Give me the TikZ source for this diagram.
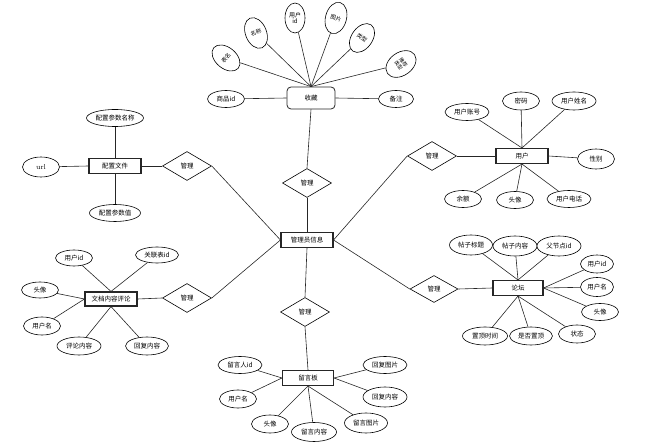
\documentclass[tikz,border=0pt]{standalone}
\usepackage{fontspec}
\newfontfamily\cjk{Noto Sans CJK SC}
\usetikzlibrary{shapes.geometric}
\begin{document}
\begin{tikzpicture}[x=1pt,y=-1pt,
  every node/.style={font=\cjk\fontsize{6.5}{7.5}\selectfont, inner sep=0pt},
  ent/.style={draw=black!85, line width=1.1pt, rectangle, minimum width=52pt, minimum height=15pt, fill=white},
  attr/.style={draw, line width=0.6pt, ellipse, minimum width=37pt, minimum height=17pt, fill=white},
  wattr/.style={attr, minimum width=44pt},
  fan/.style={draw, line width=0.6pt, ellipse, minimum width=21pt, minimum height=32pt, align=center, fill=white, font=\cjk\fontsize{5.5}{6.2}\selectfont},
  rel/.style={draw, line width=0.6pt, diamond, minimum width=49pt, minimum height=29pt, fill=white},
  conn/.style={draw=black!85, line width=0.6pt}
]
\useasboundingbox (0,0) rectangle (670,446);

% central entity
\node[ent] (adm) at (307,240) {管理员信息};

% collection (top)
\node[ent, rounded corners=4pt, minimum width=48pt, minimum height=22pt, line width=0.8pt] (fav) at (311,98) {收藏};
\node[attr] (favpid) at (226,99) {商品id};
\node[attr, minimum width=35pt] (favnote) at (396,99) {备注};
\node[fan, rotate=50] (favtab) at (226,58) {表名};
\node[fan, rotate=22] (favname) at (256,33) {名称};
\node[fan, minimum width=20pt, minimum height=30pt, font=\cjk\fontsize{6}{6.8}\selectfont] (favuid) at (295,18) {用户\\id};
\node[fan, rotate=-15] (favpic) at (336,18) {图片};
\node[fan, rotate=-35] (favtype) at (362,38) {类型};
\node[fan, rotate=-55, minimum width=23pt, minimum height=33pt, font=\cjk\fontsize{5}{5.8}\selectfont] (favrec) at (401,64) {推荐\\类型};
\node[rel] (d1) at (307,183) {管理};

\foreach \a in {favtab,favname,favuid,favpic,favtype,favrec}
  \draw[conn] (\a) -- (fav.north);
\draw[conn] (favpid) -- (fav.west);
\draw[conn] (favnote) -- (fav.east);
\draw[conn] (fav.south) -- (d1.north);
\draw[conn] (d1.south) -- (adm.north);

% config file (left top)
\node[ent] (cfg) at (115,166) {配置文件};
\node[attr, minimum width=57pt] (cfgname) at (115,118) {配置参数名称};
\node[attr, minimum width=51pt] (cfgval) at (115,213) {配置参数值};
\node[attr, minimum height=20pt, font=\rmfamily\fontsize{7}{8}\selectfont] (cfgurl) at (41,167) {url};
\node[rel] (dc) at (187,166) {管理};
\draw[conn] (cfgname) -- (cfg.north);
\draw[conn] (cfgval) -- (cfg.south);
\draw[conn] (cfgurl) -- (cfg.west);
\draw[conn] (cfg.east) -- (dc.west);
\draw[conn] (dc.east) -- (adm.west);

% user (right top)
\node[ent] (usr) at (522,156) {用户};
\node[wattr] (usracc) at (467,112) {用户账号};
\node[attr, minimum height=18pt] (usrpwd) at (521,101) {密码};
\node[wattr, minimum height=18pt] (usrname) at (574,101) {用户姓名};
\node[attr, minimum height=20pt] (usrsex) at (596,159) {性别};
\node[attr] (usrbal) at (463,199) {余额};
\node[attr] (usrava) at (515,200) {头像};
\node[wattr] (usrtel) at (569,199) {用户电话};
\node[rel] (du) at (432,156) {管理};
\foreach \a in {usracc,usrpwd,usrname}
  \draw[conn] (\a) -- (usr.north);
\foreach \a in {usrbal,usrava,usrtel}
  \draw[conn] (\a) -- (usr.south);
\draw[conn] (usrsex) -- (usr.east);
\draw[conn] (du.east) -- (usr.west);
\draw[conn] (du.west) -- (adm.east);

% document comment (left bottom)
\node[ent, minimum height=14pt] (cmt) at (111,299) {文档内容评论};
\node[attr, minimum height=16pt] (cmtuid) at (74,258) {用户id};
\node[wattr, minimum width=43pt, minimum height=16pt] (cmtref) at (157,255) {关联表id};
\node[attr, minimum height=16pt] (cmtava) at (40,290) {头像};
\node[attr, minimum height=18pt] (cmtuname) at (42,326) {用户名};
\node[wattr, minimum height=18pt] (cmtcont) at (79,346) {评论内容};
\node[wattr, minimum width=43pt, minimum height=18pt] (cmtrep) at (147,346) {回复内容};
\node[rel] (dm) at (187,298) {管理};
\draw[conn] (cmtuid) -- (cmt.north);
\draw[conn] (cmtref) -- (cmt.north);
\draw[conn] (cmtava) -- (cmt.west);
\draw[conn] (cmtuname) -- (cmt.west);
\draw[conn] (cmtcont) -- (cmt.south);
\draw[conn] (cmtrep) -- (cmt.south);
\draw[conn] (cmt.east) -- (dm.west);
\draw[conn] (dm.east) -- (adm.west);

% forum (right bottom)
\node[ent, minimum width=50pt] (bbs) at (518,288) {论坛};
\node[wattr, minimum width=43pt, minimum height=20pt] (bbstitle) at (471,245) {帖子标题};
\node[wattr, minimum height=20pt] (bbscont) at (515,246) {帖子内容};
\node[wattr, minimum height=20pt] (bbspar) at (559,246) {父节点id};
\node[attr, minimum width=33pt, minimum height=18pt] (bbsuid) at (597,264) {用户id};
\node[attr, minimum width=33pt, minimum height=19pt] (bbsuname) at (597,287) {用户名};
\node[attr, minimum height=17pt] (bbsava) at (600,312) {头像};
\node[wattr, minimum width=45pt, minimum height=18pt] (bbstop) at (485,336) {置顶时间};
\node[wattr, minimum width=43pt, minimum height=18pt] (bbsistop) at (531,336) {是否置顶};
\node[attr, minimum height=18pt] (bbsstat) at (577,334) {状态};
\node[rel, minimum width=48pt, minimum height=27pt] (db) at (434,289) {管理};
\foreach \a in {bbstitle,bbscont,bbspar}
  \draw[conn] (\a) -- (bbs.north);
\foreach \a in {bbsuid,bbsuname,bbsava}
  \draw[conn] (\a) -- (bbs.east);
\foreach \a in {bbstop,bbsistop,bbsstat}
  \draw[conn] (\a) -- (bbs.south);
\draw[conn] (db.east) -- (bbs.west);
\draw[conn] (adm.east) -- (db.west);

% message board (bottom)
\node[ent, minimum width=51pt] (msg) at (308,378) {留言板};
\node[rel] (d2) at (305,312) {管理};
\node[wattr] (msguid) at (240,365) {留言人id};
\node[attr, minimum height=18pt] (msguname) at (238,399) {用户名};
\node[attr, minimum height=18pt] (msgava) at (270,424) {头像};
\node[wattr, minimum width=45pt, minimum height=19pt] (msgcont) at (314,432) {留言内容};
\node[wattr, minimum width=43pt, minimum height=20pt] (msgpic) at (366,423) {留言图片};
\node[wattr, minimum height=20pt] (msgrep) at (385,397) {回复内容};
\node[wattr] (msgreppic) at (385,365) {回复图片};
\draw[conn] (adm.south) -- (d2.north);
\draw[conn] (d2.south) -- (msg.north);
\draw[conn] (msguid) -- (msg.west);
\draw[conn] (msguname) -- (msg.west);
\foreach \a in {msgava,msgcont,msgpic}
  \draw[conn] (\a) -- (msg.south);
\draw[conn] (msgrep) -- (msg.east);
\draw[conn] (msgreppic) -- (msg.east);
\end{tikzpicture}
\end{document}
